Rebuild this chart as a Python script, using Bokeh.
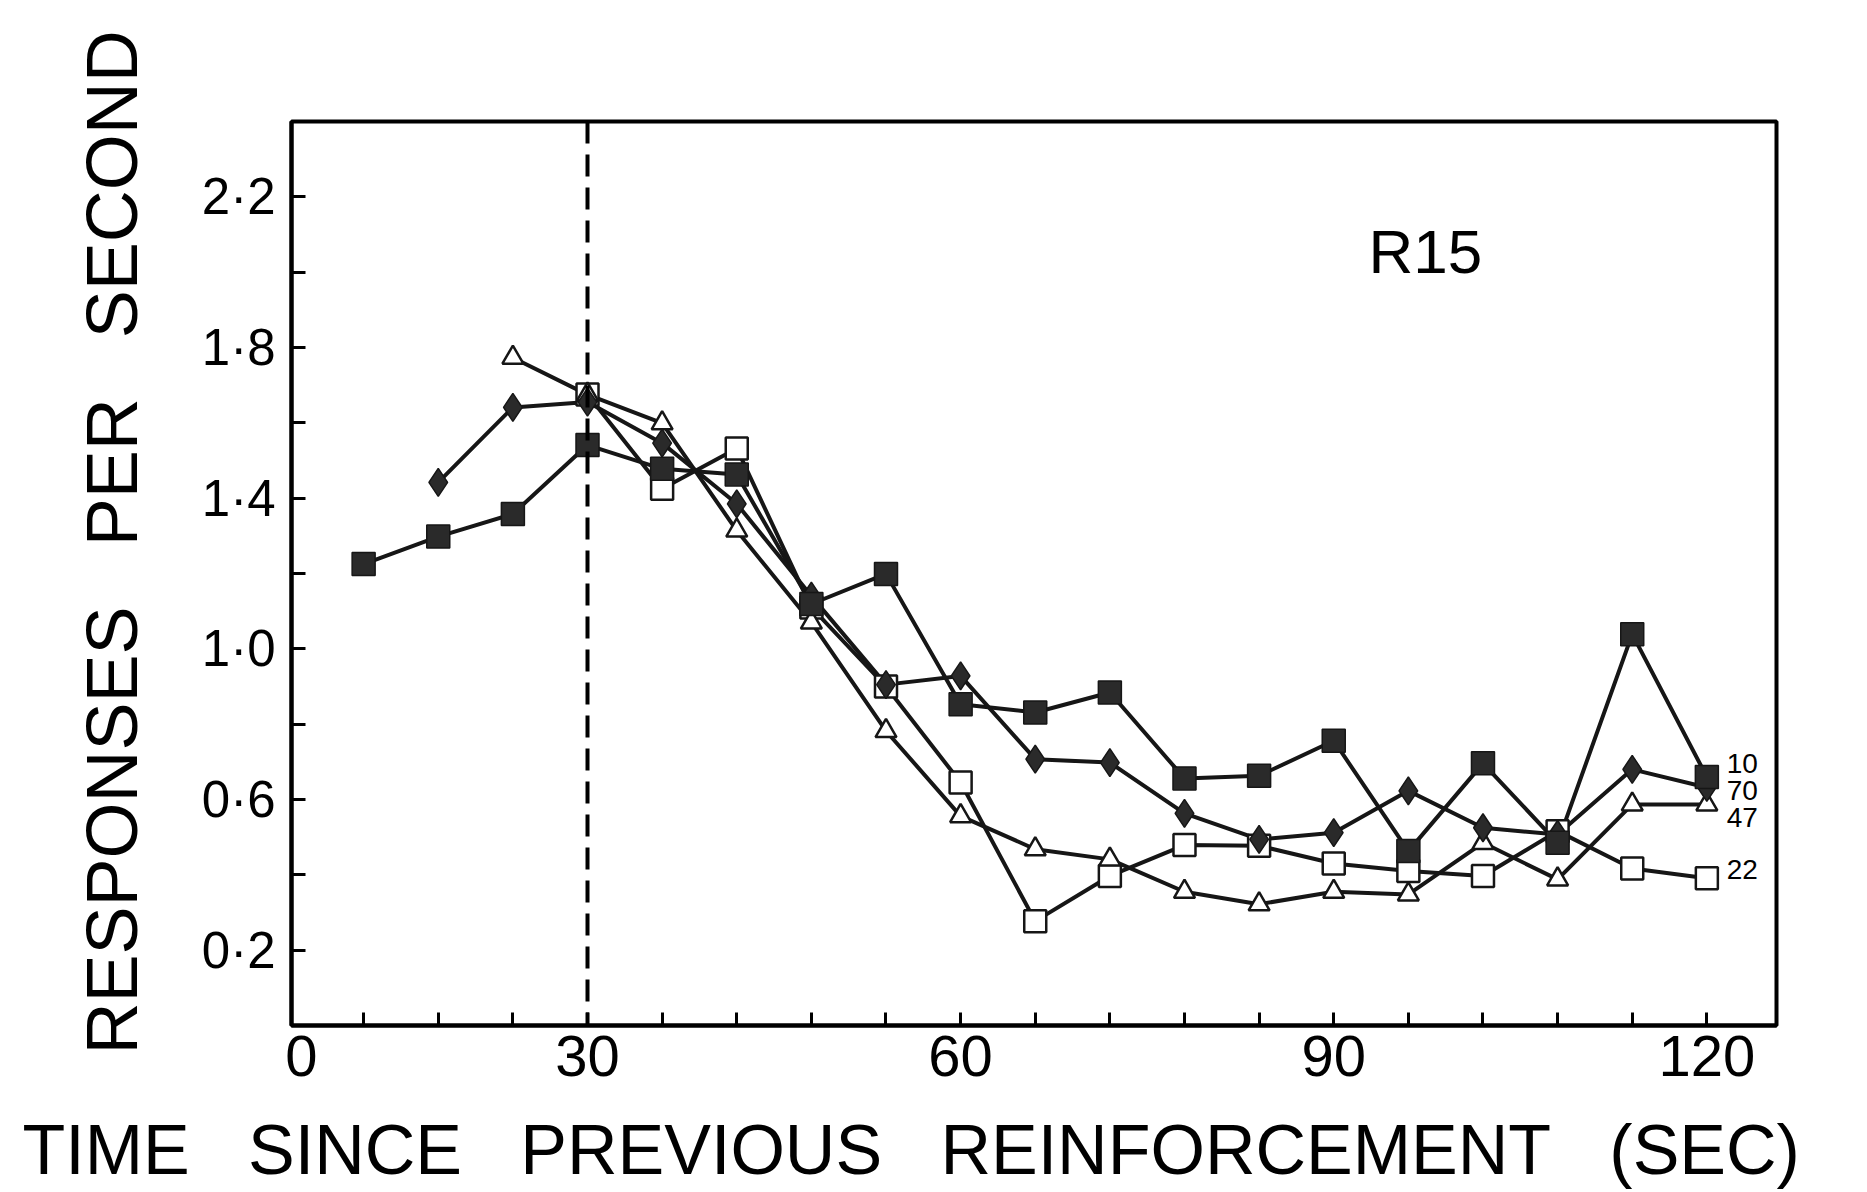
import math
from bokeh.plotting import figure
from bokeh.models import FixedTicker, Span, Label, Title
from bokeh.embed import file_html
from bokeh.resources import INLINE
from bokeh.core.properties import value

# ---------------- data ----------------
time_s = [12, 18, 24, 30, 36, 42, 48, 54, 60, 66, 72, 78, 84, 90, 96, 102, 108, 114, 120]

rate_10 = [1.225, 1.298, 1.358, 1.541, 1.478, 1.463, 1.119, 1.199, 0.853, 0.831,
           0.884, 0.656, 0.663, 0.756, 0.463, 0.696, 0.485, 1.039, 0.660]
time_70 = time_s[1:]
rate_70 = [1.442, 1.641, 1.655, 1.546, 1.385, 1.140, 0.905, 0.928, 0.707, 0.698,
           0.563, 0.494, 0.512, 0.623, 0.525, 0.507, 0.680, 0.632]
time_47 = time_s[2:]
rate_47 = [1.773, 1.675, 1.599, 1.314, 1.070, 0.782, 0.556, 0.468, 0.441, 0.355,
           0.322, 0.355, 0.348, 0.485, 0.388, 0.587, 0.587]
time_22 = time_s[3:]
rate_22 = [1.675, 1.425, 1.532, 1.110, 0.900, 0.645, 0.277, 0.397, 0.479, 0.477,
           0.430, 0.410, 0.397, 0.516, 0.417, 0.391]

series_names = ["10", "70", "47", "22"]
end_label_y = [0.695, 0.623, 0.551, 0.415]

panel_title = "R15"
criterion_time = 30

x_tick_values = [30, 60, 90, 120]
origin_label = "0"
y_tick_values = [0.2, 0.6, 1.0, 1.4, 1.8, 2.2]
y_tick_labels = ["0·2", "0·6", "1·0", "1·4", "1·8", "2·2"]
y_minor_values = [0.4, 0.8, 1.2, 1.6, 2.0]

x_title_words = ["TIME", "SINCE", "PREVIOUS", "REINFORCEMENT", "(SEC)"]
y_title_words = ["RESPONSES", "PER", "SECOND"]

# ---------------- layout / style ----------------
X_START, X_END = 6.2, 125.6
FONT = "Liberation Sans"
INK = "#161616"
gap3 = "\u00a0\u00a0\u00a0"

p = figure(frame_width=1485, frame_height=904,
           x_range=(X_START, X_END), y_range=(0, 2.4),
           min_border_left=291, min_border_right=83,
           min_border_top=121, min_border_bottom=150,
           output_backend="svg", toolbar_location=None,
           background_fill_color="white", border_fill_color="white")

p.xgrid.visible = False
p.ygrid.visible = False
p.outline_line_color = "black"
p.outline_line_width = 4
p.outline_line_alpha = 1

origin_pos = X_START + 0.8
xa = p.xaxis[0]
xa.ticker = FixedTicker(ticks=[origin_pos] + x_tick_values, minor_ticks=time_s)
xa.major_label_overrides = {origin_pos: origin_label}
xa.major_tick_in = 0
xa.major_tick_out = 0
xa.minor_tick_in = 13
xa.minor_tick_out = 0
xa.minor_tick_line_width = 3
xa.minor_tick_line_color = "black"
xa.axis_line_width = 4
xa.axis_line_color = "black"
xa.major_label_text_font = FONT
xa.major_label_text_font_size = "58px"
xa.major_label_text_color = "black"
xa.major_label_standoff = 10

ya = p.yaxis[0]
ya.ticker = FixedTicker(ticks=y_tick_values, minor_ticks=y_minor_values)
ya.major_label_overrides = dict(zip(y_tick_values, y_tick_labels))
ya.major_tick_in = 14
ya.major_tick_out = 0
ya.minor_tick_in = 14
ya.minor_tick_out = 0
ya.major_tick_line_width = 3
ya.minor_tick_line_width = 3
ya.major_tick_line_color = "black"
ya.minor_tick_line_color = "black"
ya.axis_line_width = 4
ya.axis_line_color = "black"
ya.major_label_text_font = FONT
ya.major_label_text_font_size = "51px"
ya.major_label_text_color = "black"
ya.major_label_standoff = 16

# dashed criterion line
p.add_layout(Span(location=criterion_time, dimension="height", line_color="black",
                  line_width=4, line_dash="22 11"))

# series
lw = 4
p.line(time_s, rate_10, line_color=INK, line_width=lw)
p.line(time_70, rate_70, line_color=INK, line_width=lw)
p.line(time_47, rate_47, line_color=INK, line_width=lw)
p.line(time_22, rate_22, line_color=INK, line_width=lw)

p.scatter(time_22, rate_22, marker="square", size=22, fill_color="white",
          line_color=INK, line_width=2.5)
p.scatter(time_47, rate_47, marker="triangle", size=21, fill_color="white",
          line_color=INK, line_width=2.5)
p.scatter(time_70, rate_70, marker="diamond", size=28, fill_color="#2a2a2a",
          line_color=INK, line_width=1.5)
p.scatter(time_s, rate_10, marker="square", size=23, fill_color="#2a2a2a",
          line_color=INK, line_width=1.5)

# end labels
end_x = [time_s[-1] + 1.6] * len(series_names)
p.text(x=end_x, y=end_label_y, text=series_names, text_font=value(FONT),
       text_font_size="28px", text_align="left", text_baseline="middle",
       text_color="black")

# panel title
p.add_layout(Label(x=92.8, y=2.055, text=panel_title, text_font=FONT,
                   text_font_size="62px", text_color="black",
                   text_align="left", text_baseline="alphabetic"))

# axis titles
p.add_layout(Title(text=gap3.join(x_title_words), align="left", offset=-269,
                   standoff=60, text_font=FONT, text_font_size="70px",
                   text_font_style="normal", text_color="black"), "below")
p.add_layout(Title(text=gap3.join(y_title_words), align="left", offset=-29,
                   standoff=94, text_font=FONT, text_font_size="72px",
                   text_font_style="normal", text_color="black"), "left")

open("out.html", "w").write(file_html(p, INLINE))
